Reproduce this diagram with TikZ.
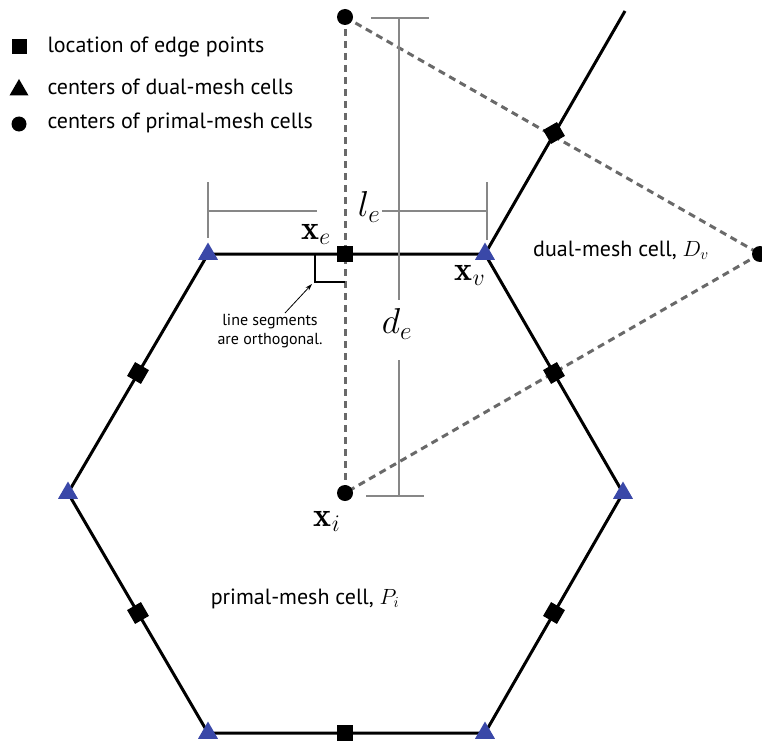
\RequirePackage{fix-cm}
\documentclass[tikz,border=0pt]{standalone}
\usepackage{fontspec}
\newfontfamily\lab{PT Sans}
\usetikzlibrary{shapes.geometric,arrows.meta}
\definecolor{triblue}{RGB}{58,72,168}
\definecolor{dashgray}{RGB}{105,105,105}
\definecolor{dimgray}{RGB}{135,135,135}
\begin{document}
\begin{tikzpicture}[x=1pt,y=-1pt,
 hexline/.style={line width=3pt,black},
 dualline/.style={line width=3pt,dashgray,dash pattern=on 7pt off 5pt},
 dimline/.style={line width=1.3pt,dimgray},
 edgept/.style={rectangle,fill=black,minimum size=16pt,inner sep=0pt},
 dualctr/.style={regular polygon,regular polygon sides=3,fill=triblue,minimum size=23pt,inner sep=0pt},
 primctr/.style={circle,fill=black,minimum size=16pt,inner sep=0pt},
 legtext/.style={anchor=west,font=\lab\fontsize{22}{25}\selectfont},
 celltext/.style={font=\lab\fontsize{22}{25}\selectfont},
 mathlab/.style={font=\fontsize{34}{36}\selectfont},
 dimlab/.style={font=\fontsize{36}{38}\selectfont},
]
\useasboundingbox (0,0) rectangle (762,741);
% hexagon vertices
\coordinate (v1) at (208,254);
\coordinate (v2) at (485,254);
\coordinate (v3) at (623,493);
\coordinate (v4) at (485,733);
\coordinate (v5) at (208,733);
\coordinate (v6) at (68,493);
\coordinate (vfar) at (625,11);
% primal centers
\coordinate (ci) at (345,493);
\coordinate (ctop) at (345,17);
\coordinate (cright) at (760,254);
% hexagon and neighbouring edge
\draw[hexline] (v1) -- (v2) -- (v3) -- (v4) -- (v5) -- (v6) -- cycle;
\draw[hexline] (v2) -- (vfar);
% dual cell (dashed)
\draw[dualline] (ctop) -- (ci);
\draw[dualline] (ctop) -- (cright);
\draw[dualline] (cright) -- (ci);
% dimension l_e
\coordinate (la1) at (208,182); \coordinate (la2) at (208,238);
\coordinate (lb1) at (487,182); \coordinate (lb2) at (487,240);
\coordinate (lh1) at (208,211); \coordinate (lh2) at (317,211);
\coordinate (lh3) at (382,211); \coordinate (lh4) at (487,211);
\draw[dimline] (la1) -- (la2);
\draw[dimline] (lb1) -- (lb2);
\draw[dimline] (lh1) -- (lh2);
\draw[dimline] (lh3) -- (lh4);
% dimension d_e
\coordinate (da1) at (371,18); \coordinate (da2) at (429,18);
\coordinate (db1) at (366,496); \coordinate (db2) at (424,496);
\coordinate (dv1) at (399,18); \coordinate (dv2) at (399,300);
\coordinate (dv3) at (399,360); \coordinate (dv4) at (399,496);
\draw[dimline] (da1) -- (da2);
\draw[dimline] (db1) -- (db2);
\draw[dimline] (dv1) -- (dv2);
\draw[dimline] (dv3) -- (dv4);
% right-angle mark
\coordinate (ra1) at (315,254); \coordinate (ra2) at (315,282); \coordinate (ra3) at (345,282);
\draw[line width=2.6pt] (ra1) -- (ra2) -- (ra3);
% markers: dual centers
\foreach \v in {1,...,6} \node[dualctr] (t\v) at (v\v) {};
% edge points
\node[edgept] (e1) at (345,254) {};
\node[edgept,rotate=60] (e2) at (138,373) {};
\node[edgept,rotate=-60] (e3) at (138,613) {};
\node[edgept] (e4) at (345,733) {};
\node[edgept,rotate=60] (e5) at (554,613) {};
\node[edgept,rotate=-60] (e6) at (554,373) {};
\node[edgept,rotate=-60] (e7) at (554,133) {};
% primal centers
\node[primctr] (pi) at (ci) {};
\node[primctr] (ptop) at (ctop) {};
\node[primctr] (pright) at (cright) {};
% labels
\node[mathlab,anchor=base] (xe) at (316,239) {$\mathbf{x}_e$};
\node[mathlab,anchor=base] (xv) at (470,280) {$\mathbf{x}_v$};
\node[mathlab,anchor=base] (xi) at (327,526) {$\mathbf{x}_i$};
\node[dimlab] (le) at (369,207) {$l_e$};
\node[dimlab] (de) at (397,324) {$d_e$};
\node[celltext] (dual) at (621,250) {dual-mesh cell, $D_v$};
\node[celltext] (prim) at (305,599) {primal-mesh cell, $P_i$};
% note and arrow
\node[font=\lab\fontsize{16}{19}\selectfont,align=center] (note) at (270,331) {line segments\\are orthogonal.};
\coordinate (arrtail) at (285,313);
\coordinate (arrhead) at (312,284);
\draw[line width=0.8pt,-{Stealth[length=7pt,width=4.5pt]}] (arrtail) -- (arrhead);
% legend
\node[edgept,minimum size=15pt] (lsq) at (19,47) {};
\node[regular polygon,regular polygon sides=3,fill=black,minimum size=22pt,inner sep=0pt] (ltri) at (19,90) {};
\node[primctr,minimum size=15pt] (lcir) at (19,124) {};
\node[legtext] (l1) at (44,47) {location of edge points};
\node[legtext] (l2) at (44,87) {centers of dual-mesh cells};
\node[legtext] (l3) at (44,123) {centers of primal-mesh cells};
\end{tikzpicture}
\end{document}
